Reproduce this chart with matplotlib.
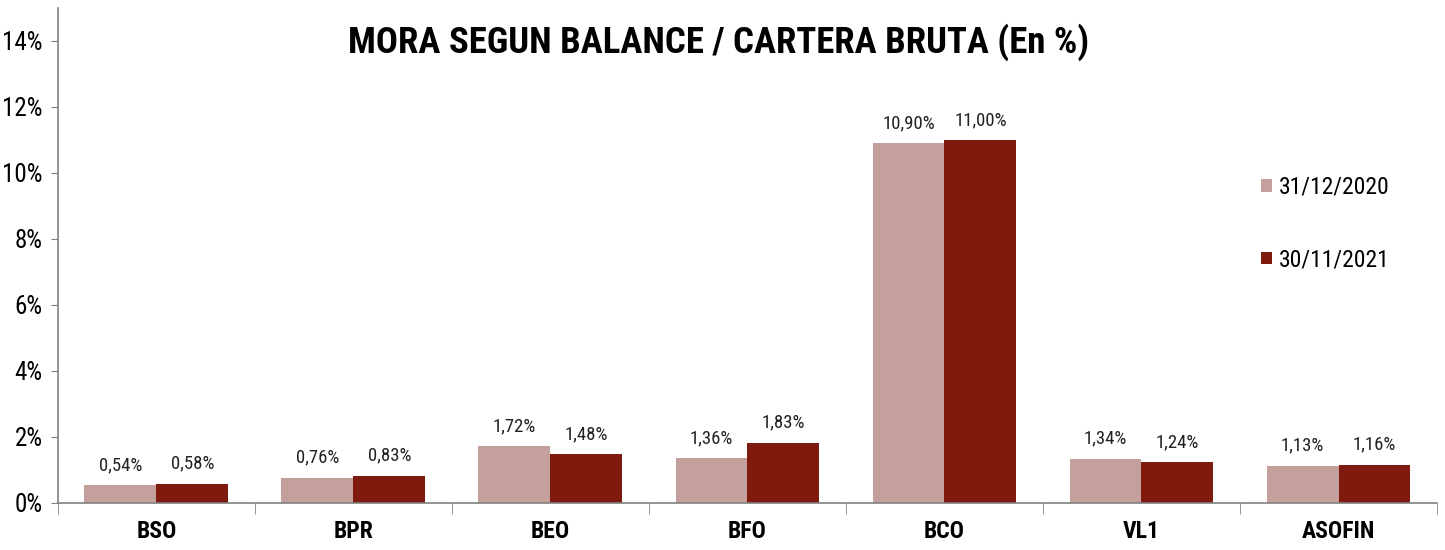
import matplotlib
matplotlib.use("Agg")
import matplotlib.pyplot as plt
import numpy as np
from matplotlib.ticker import FixedLocator

categories = ["BSO", "BPR", "BEO", "BFO", "BCO", "VL1", "ASOFIN"]
series_2020 = [0.54, 0.76, 1.72, 1.36, 10.90, 1.34, 1.13]
series_2021 = [0.58, 0.83, 1.48, 1.83, 11.00, 1.24, 1.16]
series_names = ["31/12/2020", "30/11/2021"]
title = "MORA SEGUN BALANCE / CARTERA BRUTA (En %)"

plt.rcParams['font.family'] = ['Roboto Condensed', 'Liberation Sans', 'DejaVu Sans']

fig = plt.figure(figsize=(14.45, 5.5), dpi=100)
ax = fig.add_axes([0.040, 0.0855, 0.9545, 0.9])

x = np.arange(len(categories))
w = 0.365
c1 = "#C4A09D"
c2 = "#7F1A0E"
ax.bar(x - w/2, series_2020, w, color=c1, label=series_names[0])
ax.bar(x + w/2, series_2021, w, color=c2, label=series_names[1])

def fmt(v):
    return f"{v:.2f}".replace(".", ",") + "%"

for xs, vals in ((x - w/2, series_2020), (x + w/2, series_2021)):
    for xi, v in zip(xs, vals):
        ax.annotate(fmt(v), (xi, v), xytext=(0, 8), textcoords="offset points",
                    ha="center", va="bottom", fontsize=13.5, color="#222222")

ax.set_xlim(-0.5, len(categories) - 0.5)
ax.set_ylim(0, 15)
ax.set_yticks(np.arange(0, 15, 2))
ax.set_yticklabels([f"{v}%" for v in range(0, 15, 2)], fontsize=18)
ax.set_xticks(x)
ax.set_xticklabels(categories, fontsize=17, fontweight="bold")
ax.tick_params(axis="x", which="major", length=0, pad=12)
ax.xaxis.set_minor_locator(FixedLocator(np.arange(-0.5, len(categories), 1.0)))
ax.tick_params(axis="x", which="minor", length=8, color="#808080", direction="out")
ax.tick_params(axis="y", length=5, color="#808080", direction="out", pad=6)

for s in ("top", "right"):
    ax.spines[s].set_visible(False)
for s in ("left", "bottom"):
    ax.spines[s].set_color("#808080")
    ax.spines[s].set_linewidth(1.2)

fig.text(0.497, 0.958, title, ha="center", va="top", fontsize=26.5, fontweight="bold")

ax.legend(loc="upper left", bbox_to_anchor=(0.857, 0.704), frameon=False,
          fontsize=17, handlelength=0.45, handleheight=0.45,
          handletextpad=0.3, labelspacing=2.1)

fig.savefig("out.png", dpi=100)
